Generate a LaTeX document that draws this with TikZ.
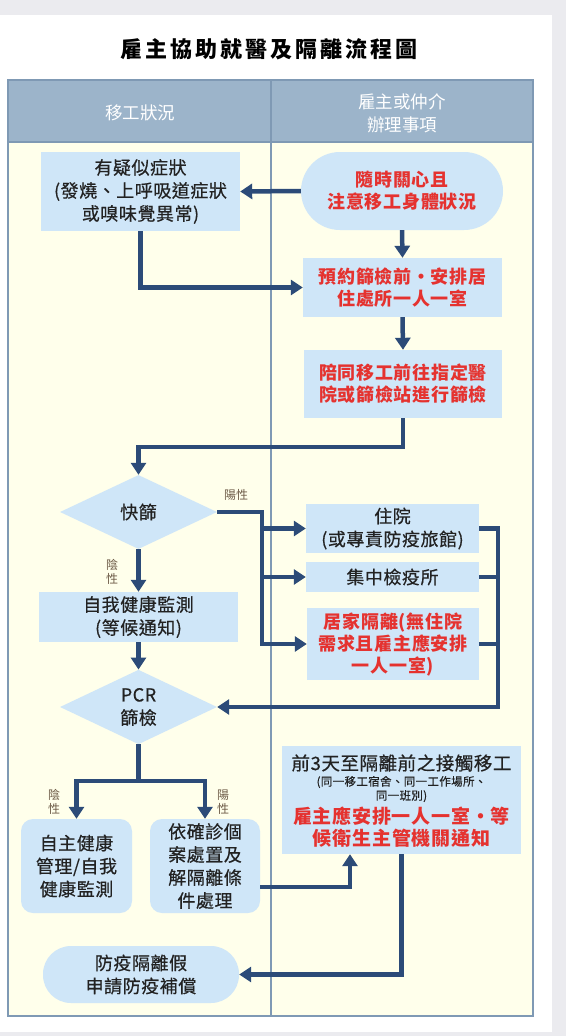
\documentclass[tikz,border=0pt]{standalone}
\usepackage{fontspec}
\setmainfont{Noto Sans CJK TC}
\newfontfamily\medfont{Noto Sans CJK TC}[FakeBold=0.5, LetterSpace=3]
\newfontfamily\redfont{Noto Sans CJK TC}[LetterSpace=4]
\usetikzlibrary{arrows.meta,shapes.geometric,calc}
\definecolor{bgc}{HTML}{EBEBEF}
\definecolor{hdrc}{HTML}{9CB4CA}
\definecolor{tblc}{HTML}{7F99B4}
\definecolor{bodyc}{HTML}{FFFFEB}
\definecolor{boxc}{HTML}{CFE6F8}
\definecolor{arrowc}{HTML}{2C4B78}
\definecolor{redt}{HTML}{E5322F}
\definecolor{lblc}{HTML}{6E5C48}
\definecolor{txtc}{HTML}{222222}
\begin{document}
\begin{tikzpicture}[x=1pt,y=-1pt,
  stepbox/.style={fill=boxc, draw=none, inner sep=0pt, align=center, text=txtc,
    font=\medfont\fontsize{18}{23}\selectfont},
  redbox/.style={stepbox, text=redt, font=\redfont\fontsize{18}{22}\selectfont\bfseries},
  roundbox/.style={rounded corners=12pt},
  decide/.style={stepbox, shape=diamond, minimum width=157pt, minimum height=74pt},
  lbl/.style={inner sep=0pt, align=center, text=lblc, font=\fontsize{12}{14}\selectfont},
  hdrtext/.style={inner sep=0pt, align=center, text=white, font=\fontsize{17.5}{23}\selectfont},
  flow/.style={draw=arrowc, line width=4.5pt, -{Triangle[width=15pt,length=12pt]}},
  flowline/.style={draw=arrowc, line width=4.5pt}
]
% background and card
\fill[bgc] (0,0) rectangle (566,1036);
\fill[white] (0,15) rectangle (552,1032);
\useasboundingbox (0,0) rectangle (566,1036);
% title
\node[inner sep=0pt, text=black, font=\fontsize{22}{26}\selectfont\bfseries\addfontfeature{LetterSpace=14}] (title) at (269,49) {雇主協助就醫及隔離流程圖};
% table
\fill[bodyc] (8,142) rectangle (533,1016);
\fill[hdrc] (8,80) rectangle (533,142);
\draw[tblc, line width=1.2pt] (8,80) rectangle (533,1016);
\draw[tblc, line width=1.2pt] (8,142) -- (533,142);
\draw[tblc, line width=1.2pt] (271,80) -- (271,1016);
\node[hdrtext] (h1) at (140,113) {移工狀況};
\node[hdrtext] (h2) at (402,113) {雇主或仲介\\辦理事項};
% nodes
\node[stepbox, minimum width=199pt, minimum height=79pt] (n1) at (140.5,191.5) {有疑似症狀\\(發燒、上呼吸道症狀\\或嗅味覺異常)};
\node[redbox, rounded corners=39pt, minimum width=202pt, minimum height=78pt] (n2) at (402,191) {隨時關心且\\注意移工身體狀況};
\node[redbox, minimum width=199pt, minimum height=59pt] (n3) at (402.5,287.5) {預約篩檢前・安排居\\住處所一人一室};
\node[redbox, minimum width=198pt, minimum height=68pt] (n4) at (403,384) {陪同移工前往指定醫\\院或篩檢站進行篩檢};
\node[decide] (d1) at (138.5,512) {快篩};
\node[stepbox, minimum width=199pt, minimum height=50pt] (n5) at (138.5,617) {自我健康監測\\(等候通知)};
\node[stepbox, minimum width=173pt, minimum height=49pt] (r1) at (392.5,528.5) {住院\\(或專責防疫旅館)};
\node[stepbox, minimum width=173pt, minimum height=30pt] (r2) at (392.5,577) {集中檢疫所};
\node[redbox, minimum width=172pt, minimum height=72pt] (r3) at (393,644) {居家隔離(無住院\\需求且雇主應安排\\一人一室)};
\node[decide] (d2) at (138.5,707) {PCR\\篩檢};
\node[stepbox, roundbox, minimum width=111pt, minimum height=94pt] (n6) at (76.5,866) {自主健康\\管理/自我\\健康監測};
\node[stepbox, roundbox, minimum width=110pt, minimum height=94pt] (n7) at (205,866) {依確診個\\案處置及\\解隔離條\\件處理};
\node[stepbox, minimum width=239pt, minimum height=108pt] (n8) at (401.5,800) {};
\node[inner sep=0pt, text=txtc, font=\medfont\fontsize{18.5}{22}\selectfont] (n8a) at (401.5,763) {前3天至隔離前之接觸移工};
\node[inner sep=0pt, align=center, text=txtc, font=\medfont\fontsize{11.5}{14}\selectfont] (n8b) at (401.5,789) {(同一移工宿舍、同一工作場所、\\同一班別)};
\node[inner sep=0pt, align=center, text=redt, font=\redfont\fontsize{19}{22}\selectfont\bfseries] (n8c) at (401.5,827) {雇主應安排一人一室・等\\候衛生主管機關通知};
\node[stepbox, rounded corners=28pt, minimum width=196pt, minimum height=57pt] (n9) at (141,974.5) {防疫隔離假\\申請防疫補償};
% labels
\node[lbl] (l1) at (236,495) {陽性};
\node[lbl] (l2) at (112,572) {陰\\性};
\node[lbl] (l3) at (54,802) {陰\\性};
\node[lbl] (l4) at (223,802) {陽\\性};
% coordinates
\coordinate (j1) at (270,447);
\coordinate (b1) at (262,0);
\coordinate (b2) at (498,0);
\coordinate (j2) at (138,781);
% connectors
\draw[flow] (n2.west) -- (n1.east);
\draw[flow] (n2.south) -- (n3.north);
\draw[flow] (n1.south) |- (n3.west);
\draw[flow] (n3.south) -- (n4.north);
\draw[flow] (n4.south) -- (n4.south |- j1) -| (d1.north);
\draw[flow] (d1.east) -| (b1 |- r3.west) -- (r3.west);
\draw[flow] (b1 |- r1.west) -- (r1.west);
\draw[flow] (b1 |- r2.west) -- (r2.west);
\draw[flow] (r1.east) -| (b2 |- d2.east) -- (d2.east);
\draw[flowline] (r2.east) -- (b2 |- r2.east);
\draw[flowline] (r3.east) -- (b2 |- r3.east);
\draw[flow] (d1.south) -- (n5.north);
\draw[flow] (n5.south) -- (d2.north);
\draw[flow] (d2.south) -- (d2.south |- j2) -| (n6.north);
\draw[flow] (d2.south |- j2) -| (n7.north);
\draw[flow] ([yshift=-21pt]n7.east) -| ([xshift=-51.5pt]n8.south);
\draw[flow] (n8.south) |- (n9.east);
\end{tikzpicture}
\end{document}
